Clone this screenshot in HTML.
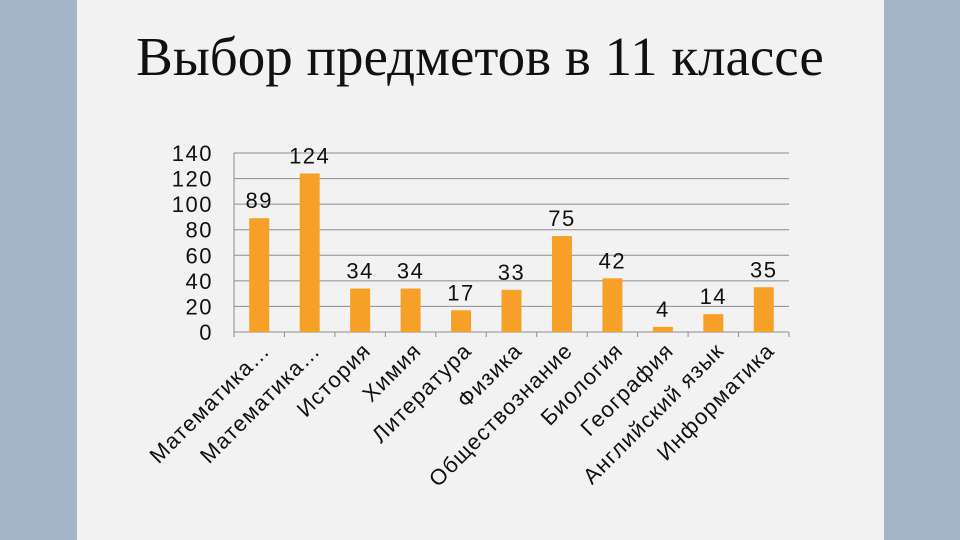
<!DOCTYPE html>
<html><head><meta charset="utf-8"><style>
html,body{margin:0;padding:0}
body{width:960px;height:540px;background:#9fb2c4;position:relative;overflow:hidden;font-family:"Liberation Sans",sans-serif}
#slide{position:absolute;left:77px;top:0;width:807px;height:540px;background:#f2f2f2}
h1{position:absolute;left:0;width:960px;top:25px;margin:0;text-align:center;font-family:"Liberation Serif",serif;font-weight:normal;font-size:55px;color:#111}
svg{position:absolute;left:0;top:0}
</style></head><body>
<div style="position:absolute;inset:0;background:#a3b5c7"></div>
<div id="slide"></div>
<h1>Выбор предметов в 11 классе</h1>
<svg id="chart" width="960" height="540"></svg>
<script>
const categories=["Математика…","Математика…","История","Химия","Литература","Физика","Обществознание","Биология","География","Английский язык","Информатика"];
const values=[89,124,34,34,17,33,75,42,4,14,35];
const ticks=[0,20,40,60,80,100,120,140];
const NS="http://www.w3.org/2000/svg";
const svg=document.getElementById('chart');
const x0=234,x1=789,yBase=332,yTop=153,maxV=140;
const step=(x1-x0)/categories.length;
function y(v){return yBase-(v/maxV)*(yBase-yTop);}
function xc(i){return x0+step*(i+0.5);}
function mk(t,a){const e=document.createElementNS(NS,t);for(const k in a)e.setAttribute(k,a[k]);svg.appendChild(e);return e;}
ticks.forEach(t=>{
 if(t>0){const g=mk('line',{x1:x0,x2:x1,y1:y(t),y2:y(t),stroke:'#8c8c8c','stroke-width':1});
 
 }
 const l=mk('text',{x:x0-21,y:y(t)+8,'text-anchor':'end','font-size':22,'letter-spacing':1.5,fill:'#111'});
 l.textContent=t;
 
 
});
const ax=mk('line',{x1:x0,x2:x1,y1:yBase,y2:yBase,stroke:'#8c8c8c','stroke-width':1});


const ay=mk('line',{x1:x0,x2:x0,y1:yTop,y2:yBase,stroke:'#8c8c8c','stroke-width':1});


for(let i=0;i<=categories.length;i++){
 const tk=mk('line',{x1:x0+step*i,x2:x0+step*i,y1:yBase,y2:yBase+5,stroke:'#8c8c8c'});
 
 
}
values.forEach((v,i)=>{
 const bw=20;
 const b=mk('rect',{x:xc(i)-bw/2,y:y(v),width:bw,height:yBase-y(v),fill:'#f7a028'});
 
 
 const t=mk('text',{x:xc(i),y:y(v)-10,'text-anchor':'middle','font-size':22,'letter-spacing':1.5,fill:'#111'});
 t.textContent=v;
 
 
 const c=mk('text',{x:0,y:0,'text-anchor':'end','font-size':22,'letter-spacing':1.2,fill:'#111',transform:`translate(${xc(i)+12},${yBase+20}) rotate(-45)`});
 c.textContent=categories[i];
 
 
});
</script>
</body></html>
